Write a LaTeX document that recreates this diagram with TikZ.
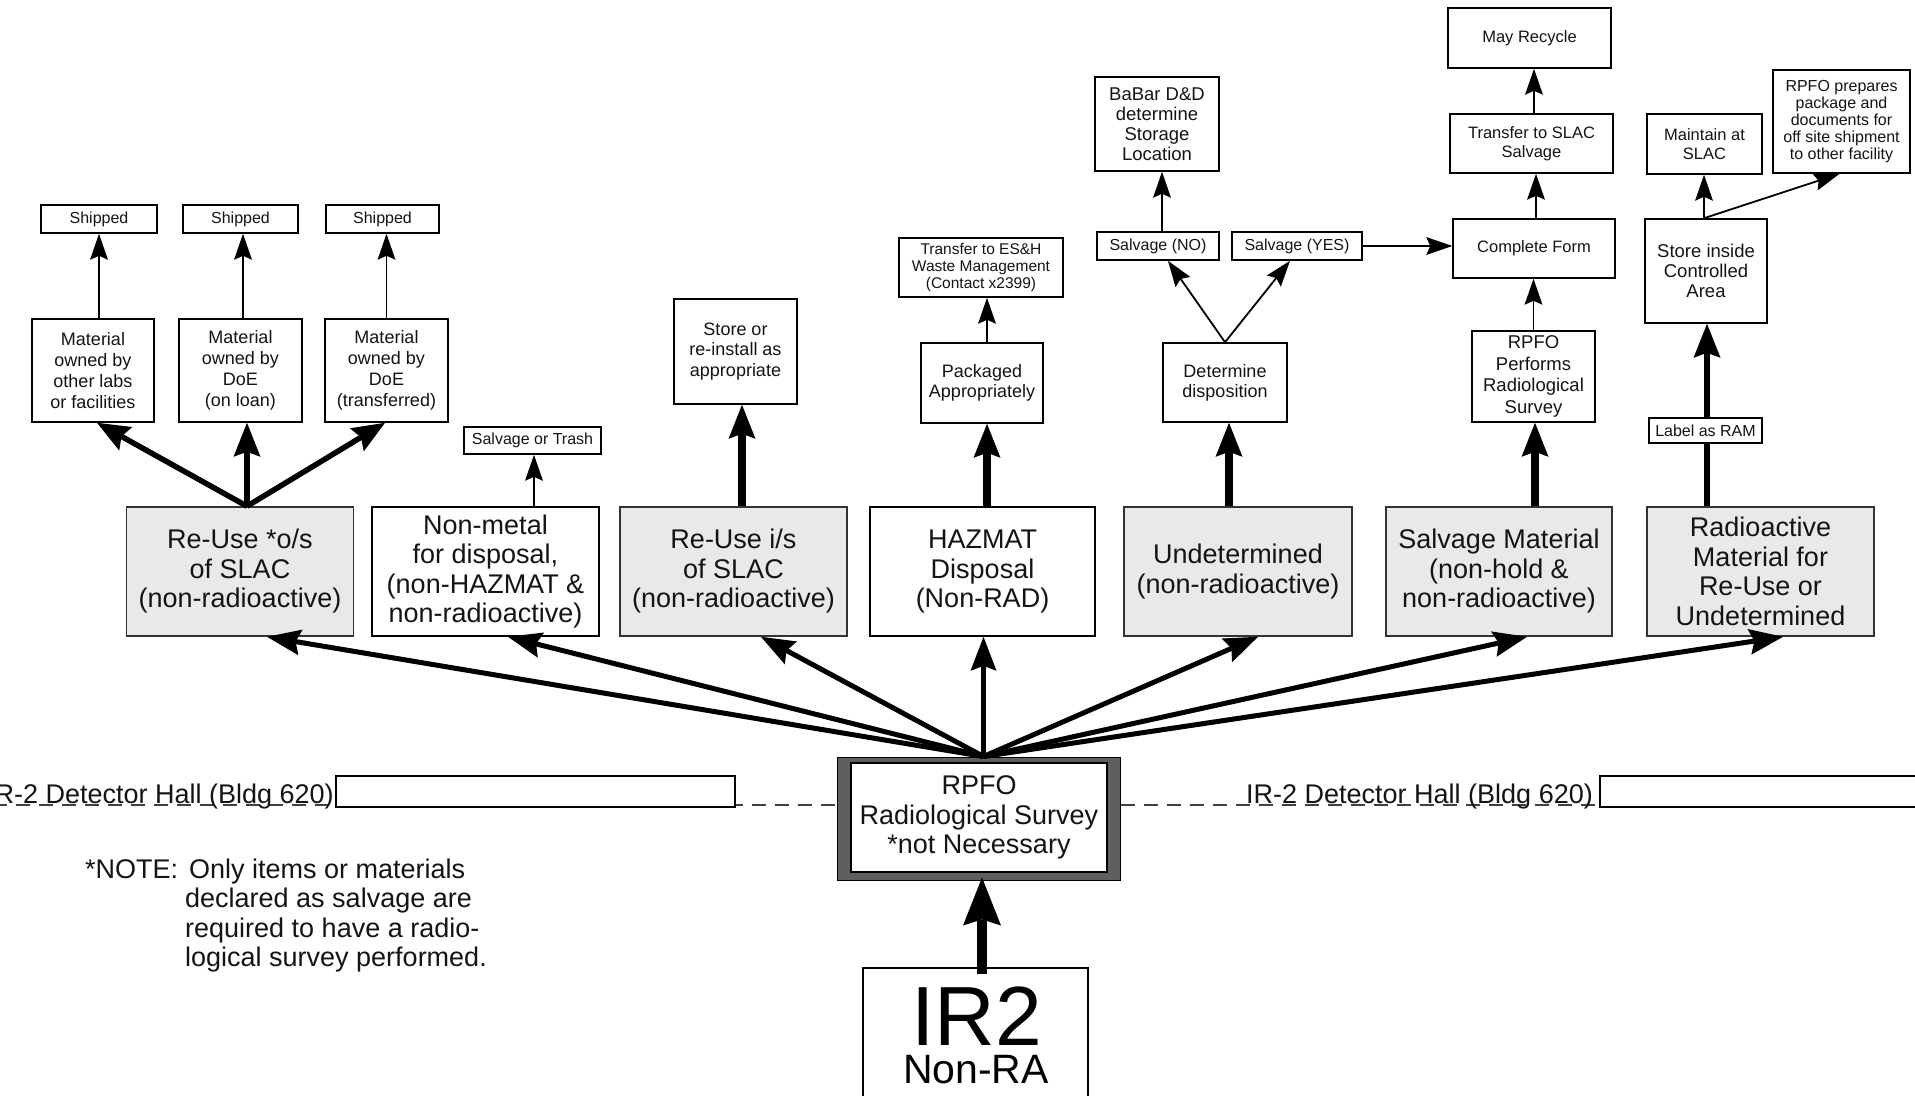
\documentclass[tikz,border=0pt]{standalone}
\usepackage{fontspec}
\setmainfont{Liberation Sans}
\usetikzlibrary{arrows.meta,calc}
\newcommand\myfs[2]{\fontsize{#1bp}{#2bp}\selectfont}
\definecolor{tierfill}{HTML}{E9E9E9}
\definecolor{rpfoframe}{HTML}{5F5F5F}
\begin{document}
\begin{tikzpicture}[x=1bp,y=-1bp,
  box/.style={draw=black, line width=1.6bp, fill=white, inner sep=0pt, align=center, text=black!92},
  tier/.style={box, draw=black!80, fill=tierfill, minimum width=227bp, minimum height=129bp, font=\myfs{27}{29.5}},
  tierw/.style={tier, fill=white, draw=black},
  thinarr/.style={line width=1.8bp, -{Stealth[length=26bp,width=18bp,inset=4bp,line width=0pt]}},
  tierarr/.style={line width=8bp, -{Stealth[length=34bp,width=27bp,inset=5bp,line width=0pt]}},
  midarr/.style={line width=5.5bp, -{Stealth[length=33bp,width=27bp,inset=5bp,line width=0pt]}},
  fanarr/.style={line width=5bp, -{Stealth[length=34bp,width=26bp,inset=5bp,line width=0pt]}},
  bigarr/.style={line width=10bp, -{Stealth[length=48bp,width=38bp,inset=6bp,line width=0pt]}},
  halldash/.style={line width=1.5bp, draw=black!75, dash pattern=on 14bp off 9bp},
  hallbox/.style={box, line width=2.5bp, minimum height=31bp},
  notetxt/.style={inner sep=0pt, font=\myfs{27}{29.5}, text=black!92},
]
\useasboundingbox (0,0) rectangle (1915,1095);

% ---------- top row: Re-Use o/s branch ----------
\node[box, minimum width=116bp, minimum height=28bp, font=\myfs{16}{18}] (ship1) at (99,219) {Shipped};
\node[box, minimum width=115bp, minimum height=28bp, font=\myfs{16}{18}] (ship2) at (240.5,219) {Shipped};
\node[box, minimum width=113bp, minimum height=28bp, font=\myfs{16}{18}] (ship3) at (382.5,219) {Shipped};
\node[box, minimum width=122bp, minimum height=103bp, font=\myfs{18}{21}] (mat1) at (93,370.5) {Material\\owned by\\other labs\\or facilities};
\node[box, minimum width=123bp, minimum height=103bp, font=\myfs{18}{21}] (mat2) at (240.5,370.5) {Material\\owned by\\DoE\\(on loan)};
\node[box, minimum width=123bp, minimum height=103bp, font=\myfs{18}{21}] (mat3) at (386.5,370.5) {Material\\owned by\\DoE\\(transferred)};

% ---------- tier boxes ----------
\node[tier] (ruos) at (240,571.5) {Re-Use *o/s\\of SLAC\\(non-radioactive)};
\node[tierw] (nonmetal) at (485.5,571.5) {Non-metal\\for disposal,\\(non-HAZMAT \&\\non-radioactive)};
\node[tier] (ruis) at (733.5,571.5) {Re-Use i/s\\of SLAC\\(non-radioactive)};
\node[tierw, minimum width=225bp] (hazmat) at (982.5,571.5) {HAZMAT\\Disposal\\(Non-RAD)};
\node[tier, minimum width=228bp] (undet) at (1238,571.5) {Undetermined\\(non-radioactive)};
\node[tier, minimum width=226bp] (salvmat) at (1499,571.5) {Salvage Material\\(non-hold \&\\non-radioactive)};
\node[tier] (radio) at (1760.5,571.5) {Radioactive\\Material for\\Re-Use or\\Undetermined};

% ---------- second column boxes ----------
\node[box, minimum width=137bp, minimum height=27bp, font=\myfs{16}{18}] (sot) at (532.5,440.5) {Salvage or Trash};
\node[box, minimum width=123bp, minimum height=105bp, font=\myfs{18}{20.5}] (store) at (735.5,351.5) {Store or\\re-install as\\appropriate};
\node[box, minimum width=122bp, minimum height=80bp, font=\myfs{18}{20}] (packaged) at (982,383) {Packaged\\Appropriately};
\node[box, minimum width=164bp, minimum height=59bp, font=\myfs{15.5}{17}] (esh) at (981,267.5) {Transfer to ES\&H\\Waste Management\\(Contact x2399)};
\node[box, minimum width=124bp, minimum height=79bp, font=\myfs{18}{20}] (determine) at (1225,382.5) {Determine\\disposition};
\node[box, minimum width=122bp, minimum height=28bp, font=\myfs{16}{18}] (salno) at (1158,246) {Salvage (NO)};
\node[box, minimum width=130bp, minimum height=28bp, font=\myfs{16}{18}] (salyes) at (1297,246) {Salvage (YES)};
\node[box, minimum width=124bp, minimum height=94bp, font=\myfs{18.5}{20}] (babar) at (1157,124) {BaBar D\&D\\determine\\Storage\\Location};
\node[box, minimum width=123bp, minimum height=91bp, font=\myfs{18.5}{21.5}] (rpfoperf) at (1533.5,376.5) {RPFO\\Performs\\Radiological\\Survey};
\node[box, minimum width=162bp, minimum height=59bp, font=\myfs{16.5}{19}] (complete) at (1534,248.5) {Complete Form};
\node[box, minimum width=163bp, minimum height=59bp, font=\myfs{16.5}{19}] (transfer) at (1531.5,143.5) {Transfer to SLAC\\Salvage};
\node[box, minimum width=163bp, minimum height=60bp, font=\myfs{16.5}{19}] (recycle) at (1529.5,38) {May Recycle};
\node[box, minimum width=113bp, minimum height=25bp, font=\myfs{16}{18}] (ram) at (1705.5,430.5) {Label as RAM};
\node[box, minimum width=122bp, minimum height=104bp, font=\myfs{18.5}{20}] (storein) at (1706,271) {Store inside\\Controlled\\Area};
\node[box, minimum width=115bp, minimum height=60bp, font=\myfs{16.5}{19}] (maintain) at (1704.5,144) {Maintain at\\SLAC};
\node[box, minimum width=137bp, minimum height=103bp, font=\myfs{16}{17}] (rpfoprep) at (1841.5,121.5) {RPFO prepares\\package and\\documents for\\off site shipment\\to other facility};

% ---------- RPFO survey box ----------
\node[box, fill=rpfoframe, line width=1bp, minimum width=283bp, minimum height=123bp] (rpfo) at (978.5,818.5) {};
\node[box, line width=1.2bp, minimum width=256bp, minimum height=109bp, font=\myfs{27}{29.5}] (rpfoin) at (979,817.5) {RPFO\\Radiological Survey\\*not Necessary};

% ---------- hall boundary ----------
\coordinate (dl) at (-30,805);
\coordinate (dr) at (1945,805);
\draw[halldash] (dl) -- (dl -| rpfo.west);
\draw[halldash] (rpfo.east |- dr) -- (dr);
\node[hallbox, minimum width=399bp] (hallboxl) at (535.5,791.5) {};
\node[hallbox, minimum width=340bp] (hallboxr) at (1770,791.5) {};
\node[notetxt, anchor=base east] (halll) at (334,803) {IR-2 Detector Hall (Bldg 620)};
\node[notetxt, anchor=base west] (hallr) at (1246,803) {IR-2 Detector Hall (Bldg 620)};

% ---------- note ----------
\node[notetxt, anchor=base west] (note0) at (85,878) {*NOTE:};
\node[notetxt, anchor=base west] (note1) at (189,878) {Only items or materials};
\node[notetxt, anchor=base west] (note2) at (185,907.5) {declared as salvage are};
\node[notetxt, anchor=base west] (note3) at (185,937) {required to have a radio-};
\node[notetxt, anchor=base west] (note4) at (185,966.5) {logical survey performed.};

% ---------- IR2 ----------
\node[box, minimum width=225bp, minimum height=170bp] (ir2) at (975.5,1053) {};
\node[inner sep=0pt, font=\myfs{84}{84}, anchor=base] (ir2t) at (976.5,1045) {IR2};
\node[inner sep=0pt, font=\myfs{41}{41}, anchor=base] (ir2s) at (976,1083) {Non-RA};

% ---------- connectors ----------
\draw[bigarr] ($(ir2.north)+(6.5,7)$) -- ($(ir2.north |- rpfo.south)+(6.5,-3)$);

\coordinate (fan) at ($(rpfo.north)+(5,0)$);
\draw[fanarr] (fan) -- ($(ruos.south)+(27,0)$);
\draw[fanarr] (fan) -- ($(nonmetal.south)+(22.5,0)$);
\draw[fanarr] (fan) -- ($(ruis.south)+(27.5,0)$);
\draw[fanarr] (fan) -- (fan |- hazmat.south);
\draw[fanarr] (fan) -- ($(undet.south)+(20,0)$);
\draw[fanarr] (fan) -- ($(salvmat.south)+(28,0)$);
\draw[fanarr] (fan) -- ($(radio.south)+(22.5,0)$);

\coordinate (ruostop) at ($(ruos.north)+(7,0)$);
\draw[midarr] (ruostop) -- ($(mat1.south)+(4,0)$);
\draw[tierarr, line width=6.5bp] (ruostop) -- (ruostop |- mat2.south);
\draw[midarr] (ruostop) -- ($(mat3.south)+(-1.5,0)$);

\draw[thinarr] (ship1.south |- mat1.north) -- (ship1.south);
\draw[thinarr] ($(ship2.south |- mat2.north)+(2.5,0)$) -- ($(ship2.south)+(2.5,0)$);
\draw[thinarr] (mat3.north) -- (mat3.north |- ship3.south);

\draw[thinarr] ($(sot.south |- nonmetal.north)+(1.5,0)$) -- ($(sot.south)+(1.5,0)$);
\draw[tierarr] ($(ruis.north)+(8.5,0)$) -- ($(ruis.north |- store.south)+(8.5,0)$);
\draw[tierarr] ($(hazmat.north)+(4.5,0)$) -- ($(hazmat.north |- packaged.south)+(4.5,0)$);
\draw[thinarr] ($(packaged.north)+(5,0)$) -- ($(packaged.north |- esh.south)+(5,0)$);

\draw[tierarr] ($(determine.south |- undet.north)+(4,0)$) -- ($(determine.south)+(4,0)$);
\draw[thinarr] (determine.north) -- ($(salno.south)+(10,0)$);
\draw[thinarr] (determine.north) -- ($(salyes.south)+(-7,0)$);
\draw[thinarr] ($(salno.north)+(4,0)$) -- ($(salno.north |- babar.south)+(4,0)$);
\draw[thinarr] (salyes.east) -- (salyes.east -| complete.west);

\draw[tierarr] ($(rpfoperf.south |- salvmat.north)+(1.5,0)$) -- ($(rpfoperf.south)+(1.5,0)$);
\draw[thinarr] (rpfoperf.north) -- (rpfoperf.north |- complete.south);
\draw[thinarr] ($(complete.north)+(2,0)$) -- ($(complete.north |- transfer.south)+(2,0)$);
\draw[thinarr] ($(transfer.north)+(2.5,0)$) -- ($(transfer.north |- recycle.south)+(2.5,0)$);

\draw[line width=6.5bp] ($(ram.south |- radio.north)+(1.5,0)$) -- ($(ram.south)+(1.5,0)$);
\draw[tierarr, line width=6.5bp] ($(ram.north)+(1.5,0)$) -- ($(ram.north |- storein.south)+(1.5,0)$);
\draw[thinarr] ($(storein.north)+(-2,0)$) -- ($(storein.north |- maintain.south)+(-2,0)$);
\draw[thinarr] ($(storein.north)+(-2,0)$) -- ($(rpfoprep.south)+(-2,0)$);
\end{tikzpicture}
\end{document}
